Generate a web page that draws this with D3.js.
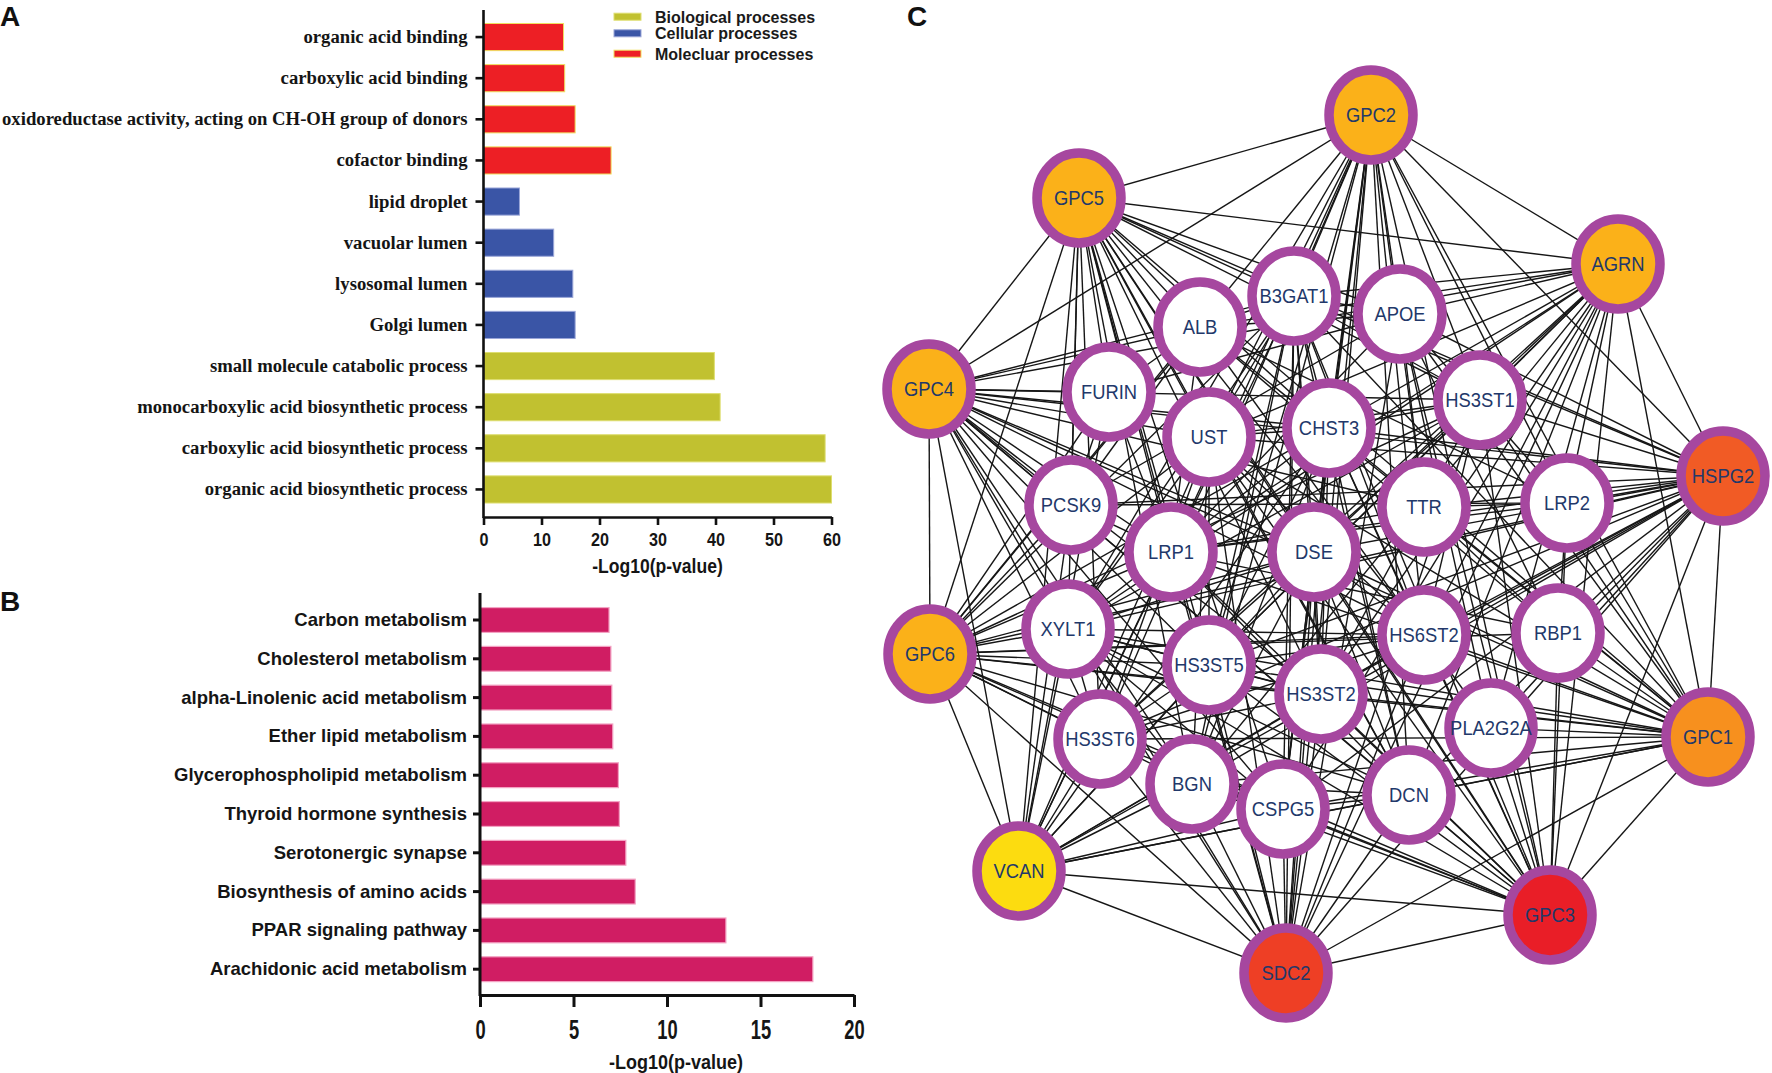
<!DOCTYPE html>
<html>
<head>
<meta charset="utf-8">
<script src="https://cdn.jsdelivr.net/npm/d3@7"></script>
<style>
  body { margin: 0; background: #fff; }
  svg { display: block; }
</style>
</head>
<body>
<svg id="fig"></svg>
<script>
// ---- panel A: GO enrichment ----
const goTerms = [
  "organic acid binding",
  "carboxylic acid binding",
  "oxidoreductase activity, acting on CH-OH group of donors",
  "cofactor binding",
  "lipid droplet",
  "vacuolar lumen",
  "lysosomal lumen",
  "Golgi lumen",
  "small molecule catabolic process",
  "monocarboxylic acid biosynthetic process",
  "carboxylic acid biosynthetic process",
  "organic acid biosynthetic process"
];
const goValues = [13.8, 14.0, 15.8, 22.0, 6.2, 12.1, 15.4, 15.8, 39.8, 40.8, 58.9, 60.0];
const goGroups = [
  "Molecluar processes", "Molecluar processes", "Molecluar processes", "Molecluar processes",
  "Cellular processes", "Cellular processes", "Cellular processes", "Cellular processes",
  "Biological processes", "Biological processes", "Biological processes", "Biological processes"
];
const goLegend = ["Biological processes", "Cellular processes", "Molecluar processes"];
const goTicks = [0, 10, 20, 30, 40, 50, 60];

// ---- panel B: KEGG pathways ----
const keggTerms = [
  "Carbon metabolism",
  "Cholesterol metabolism",
  "alpha-Linolenic acid metabolism",
  "Ether lipid metabolism",
  "Glycerophospholipid metabolism",
  "Thyroid hormone synthesis",
  "Serotonergic synapse",
  "Biosynthesis of amino acids",
  "PPAR signaling pathway",
  "Arachidonic acid metabolism"
];
const keggValues = [6.9, 7.0, 7.05, 7.1, 7.4, 7.45, 7.8, 8.3, 13.15, 17.8];
const keggTicks = [0, 5, 10, 15, 20];

// ---- panel C: PPI network (layout units = pixels from panel left / top) ----
const nodeNames = ["GPC2", "GPC5", "AGRN", "GPC4", "HSPG2", "GPC6", "GPC1", "VCAN", "GPC3", "SDC2",
  "B3GAT1", "ALB", "APOE", "FURIN", "HS3ST1", "UST", "CHST3", "PCSK9", "TTR", "LRP2",
  "LRP1", "DSE", "XYLT1", "HS6ST2", "RBP1", "HS3ST5", "HS3ST2", "PLA2G2A", "HS3ST6", "BGN", "CSPG5", "DCN"];
const nodeX = [491, 199, 738, 49, 843, 50, 828, 139, 670, 406,
  414, 320, 520, 229, 600, 329, 449, 191, 544, 687,
  291, 434, 188, 544, 678, 329, 441, 611, 220, 312, 403, 529];
const nodeY = [115, 198, 264, 389, 476, 654, 737, 871, 915, 973,
  296, 327, 314, 392, 400, 437, 428, 505, 507, 503,
  552, 552, 629, 635, 633, 665, 694, 728, 739, 784, 809, 795];
// hub ranking (0 = not a hub gene)
const hubRank = [5, 7, 6, 8, 3, 9, 4, 10, 1, 2,
  0, 0, 0, 0, 0, 0, 0, 0, 0, 0, 0, 0, 0, 0, 0, 0, 0, 0, 0, 0, 0, 0];

const links = {
  GPC2: "GPC5 AGRN GPC4 HSPG2 GPC1 GPC6 GPC3 SDC2 B3GAT1 APOE UST CHST3 HS3ST1 LRP1 DSE HS6ST2 HS3ST5 HS3ST2 XYLT1 HS3ST6 BGN CSPG5 DCN LRP2 TTR",
  GPC5: "AGRN GPC4 HSPG2 GPC6 GPC1 GPC3 SDC2 VCAN B3GAT1 ALB APOE FURIN UST CHST3 HS3ST1 LRP1 DSE HS6ST2 HS3ST5 HS3ST2 XYLT1 HS3ST6 BGN CSPG5 DCN PCSK9",
  AGRN: "HSPG2 GPC4 GPC1 GPC3 SDC2 B3GAT1 ALB APOE UST CHST3 HS3ST1 LRP1 DSE HS6ST2 HS3ST5 HS3ST2 XYLT1 HS3ST6 BGN CSPG5 DCN LRP2 PLA2G2A",
  GPC4: "GPC6 HSPG2 GPC1 VCAN GPC3 SDC2 B3GAT1 ALB FURIN UST CHST3 HS3ST1 LRP1 DSE HS6ST2 HS3ST5 HS3ST2 XYLT1 HS3ST6 BGN CSPG5 DCN PCSK9 TTR",
  HSPG2: "GPC1 GPC6 VCAN GPC3 SDC2 B3GAT1 APOE UST CHST3 HS3ST1 LRP1 LRP2 DSE HS6ST2 HS3ST5 HS3ST2 XYLT1 HS3ST6 BGN CSPG5 DCN TTR RBP1 PLA2G2A PCSK9",
  GPC6: "VCAN GPC1 GPC3 SDC2 B3GAT1 ALB FURIN UST CHST3 HS3ST1 LRP1 DSE HS6ST2 HS3ST5 HS3ST2 XYLT1 HS3ST6 BGN CSPG5 DCN PCSK9 RBP1",
  GPC1: "GPC3 SDC2 VCAN B3GAT1 APOE UST CHST3 HS3ST1 LRP1 LRP2 DSE HS6ST2 HS3ST5 HS3ST2 XYLT1 HS3ST6 BGN CSPG5 DCN RBP1 PLA2G2A TTR",
  VCAN: "SDC2 GPC3 B3GAT1 FURIN UST CHST3 LRP1 DSE HS6ST2 HS3ST5 HS3ST2 XYLT1 HS3ST6 BGN CSPG5 DCN PCSK9",
  GPC3: "SDC2 B3GAT1 APOE UST CHST3 HS3ST1 LRP1 LRP2 DSE HS6ST2 HS3ST5 HS3ST2 XYLT1 HS3ST6 BGN CSPG5 DCN RBP1 PLA2G2A",
  SDC2: "B3GAT1 UST CHST3 HS3ST1 LRP1 DSE HS6ST2 HS3ST5 HS3ST2 XYLT1 HS3ST6 BGN CSPG5 DCN APOE",
  B3GAT1: "XYLT1 CHST3 UST DSE HS3ST1 HS6ST2 HS3ST2 HS3ST5 CSPG5 BGN DCN APOE ALB",
  XYLT1: "CHST3 UST DSE HS3ST1 HS6ST2 HS3ST2 HS3ST5 HS3ST6 BGN DCN CSPG5",
  CHST3: "UST DSE HS3ST1 HS6ST2 HS3ST2 HS3ST5 BGN DCN CSPG5",
  UST: "DSE HS3ST1 HS6ST2 HS3ST5 HS3ST6 BGN DCN",
  DSE: "BGN DCN CSPG5 HS6ST2 HS3ST2",
  HS3ST1: "HS3ST2 HS3ST5 HS3ST6 HS6ST2",
  HS3ST2: "HS3ST5 HS3ST6 HS6ST2",
  HS3ST5: "HS3ST6 HS6ST2",
  HS3ST6: "HS6ST2",
  BGN: "DCN CSPG5",
  DCN: "CSPG5 LRP1",
  APOE: "LRP1 LRP2 ALB TTR PCSK9 FURIN PLA2G2A RBP1",
  LRP1: "LRP2 ALB PCSK9 FURIN TTR RBP1",
  LRP2: "ALB TTR RBP1 PCSK9",
  ALB: "TTR RBP1 FURIN PLA2G2A PCSK9",
  TTR: "RBP1",
  PCSK9: "FURIN"
};

const W = 1772, H = 1073;
const svg = d3.select("#fig").attr("width", W).attr("height", H);
svg.append("rect").attr("width", W).attr("height", H).attr("fill", "#fff");

const serif = "'Liberation Serif', 'Times New Roman', serif";
const sans = "'Liberation Sans', Arial, sans-serif";

function styleAxis(g, w) {
  g.selectAll("path.domain").attr("stroke", "#111").attr("stroke-width", w);
  g.selectAll(".tick line").attr("stroke", "#111").attr("stroke-width", w);
}

// panel letters
[["A", 0, 26], ["B", 0, 611], ["C", 907, 26]].forEach(([t, x, y]) => {
  svg.append("text").attr("x", x).attr("y", y).text(t)
    .attr("font-family", sans).attr("font-weight", "bold").attr("font-size", 28).attr("fill", "#111");
});

// ================= Panel A =================
const xA = d3.scaleLinear().domain([0, 60]).range([483.5, 831.5]);
const yA = d3.scaleBand().domain(goTerms).range([16.5, 510]).paddingInner(0.34).paddingOuter(0.17);
const colA = d3.scaleOrdinal().domain(goLegend).range(["#c1c130", "#3a55a6", "#ed1f25"]);
const edgeA = d3.scaleOrdinal().domain(goLegend).range(["#dede70", "#9aa6d8", "#f0e060"]);

const gA = svg.append("g");
gA.selectAll("rect.bar").data(goTerms).join("rect")
  .attr("class", "bar")
  .attr("x", xA(0))
  .attr("y", d => yA(d))
  .attr("width", (d, i) => xA(goValues[i]) - xA(0))
  .attr("height", yA.bandwidth())
  .attr("fill", (d, i) => colA(goGroups[i]))
  .attr("stroke", (d, i) => edgeA(goGroups[i]))
  .attr("stroke-width", 1);

const yAxA = gA.append("g").attr("transform", `translate(${xA(0)},0)`)
  .call(d3.axisLeft(yA).tickSize(8).tickPadding(8));
yAxA.select("path.domain").remove();
styleAxis(yAxA, 2.6);
yAxA.selectAll("text").attr("font-family", serif).attr("font-weight", "bold")
  .attr("font-size", 18.7).attr("fill", "#151515");
gA.append("line").attr("x1", xA(0)).attr("x2", xA(0)).attr("y1", 10).attr("y2", 518)
  .attr("stroke", "#111").attr("stroke-width", 2.6);

const xAxA = gA.append("g").attr("transform", "translate(0,517)")
  .call(d3.axisBottom(xA).tickValues(goTicks).tickSize(8).tickPadding(8).tickSizeOuter(0));
styleAxis(xAxA, 2.6);
xAxA.selectAll("text").attr("font-family", sans).attr("font-weight", "bold")
  .attr("font-size", 19).attr("fill", "#151515").attr("transform", "scale(0.85,1)");

gA.append("text").attr("transform", `translate(${(xA(0) + xA(60)) / 2},573) scale(0.9,1)`)
  .attr("text-anchor", "middle").text("-Log10(p-value)")
  .attr("font-family", sans).attr("font-weight", "bold").attr("font-size", 19.5).attr("fill", "#151515");

// legend
const legY = [16.7, 33.3, 53.7];
const legG = gA.selectAll("g.leg").data(goLegend).join("g").attr("class", "leg");
legG.append("rect").attr("x", 614).attr("y", (d, i) => legY[i] - 3.5).attr("width", 27).attr("height", 7)
  .attr("fill", d => colA(d)).attr("stroke", d => edgeA(d)).attr("stroke-width", 1);
legG.append("text").attr("x", 655).attr("y", (d, i) => legY[i] + 6).text(d => d)
  .attr("font-family", sans).attr("font-weight", "bold").attr("font-size", 16).attr("fill", "#1a1a1a");

// ================= Panel B =================
const xB = d3.scaleLinear().domain([0, 20]).range([480, 854]);
const yB = d3.scaleBand().domain(keggTerms).range([600.6, 988.6]).paddingInner(0.36).paddingOuter(0.18);

const gB = svg.append("g");
gB.selectAll("rect.bar").data(keggTerms).join("rect")
  .attr("class", "bar")
  .attr("x", xB(0))
  .attr("y", d => yB(d))
  .attr("width", (d, i) => xB(keggValues[i]) - xB(0))
  .attr("height", yB.bandwidth())
  .attr("fill", "#d01d63")
  .attr("stroke", "#f3a3c3")
  .attr("stroke-width", 1.2);

const yAxB = gB.append("g").attr("transform", `translate(${xB(0)},0)`)
  .call(d3.axisLeft(yB).tickSize(7).tickPadding(6));
yAxB.select("path.domain").remove();
styleAxis(yAxB, 3);
yAxB.selectAll("text").attr("font-family", sans).attr("font-weight", "bold")
  .attr("font-size", 18.5).attr("fill", "#151515");
gB.append("line").attr("x1", xB(0)).attr("x2", xB(0)).attr("y1", 593).attr("y2", 996)
  .attr("stroke", "#111").attr("stroke-width", 3);

const xAxB = gB.append("g").attr("transform", "translate(0,995)")
  .call(d3.axisBottom(xB).tickValues(keggTicks).tickSize(12).tickPadding(13).tickSizeOuter(0));
styleAxis(xAxB, 3);
xAxB.selectAll("text").attr("font-family", sans).attr("font-weight", "bold")
  .attr("font-size", 27).attr("fill", "#151515").attr("transform", "scale(0.68,1)");

gB.append("text").attr("transform", `translate(${(xB(0) + xB(20)) / 2 + 9},1069) scale(0.9,1)`)
  .attr("text-anchor", "middle").text("-Log10(p-value)")
  .attr("font-family", sans).attr("font-weight", "bold").attr("font-size", 20).attr("fill", "#151515");

// ================= Panel C =================
const xC = d3.scaleLinear().domain([0, 892]).range([880, 1772]);
const yC = d3.scaleLinear().domain([0, 1073]).range([0, 1073]);
const hubColor = d3.scaleOrdinal()
  .domain([0, 1, 2, 3, 4, 5, 6, 7, 8, 9, 10])
  .range(["#ffffff", "#e91e27", "#ee3f25", "#f15b25", "#f7901e", "#fbb119", "#fbb119", "#fbb119", "#fbb119", "#fbb119", "#fcdc10"]);

const nodes = nodeNames.map((n, i) => ({ id: n, x: xC(nodeX[i]), y: yC(nodeY[i]), rank: hubRank[i] }));
const byId = new Map(nodes.map(n => [n.id, n]));
const edges = [];
Object.entries(links).forEach(([s, list]) => {
  list.split(" ").forEach(t => edges.push({ source: byId.get(s), target: byId.get(t) }));
});

const gC = svg.append("g");
gC.append("g").selectAll("line").data(edges).join("line")
  .attr("x1", d => d.source.x).attr("y1", d => d.source.y)
  .attr("x2", d => d.target.x).attr("y2", d => d.target.y)
  .attr("stroke", "#161616").attr("stroke-width", 1.4);

const nodeG = gC.append("g").selectAll("g").data(nodes).join("g")
  .attr("transform", d => `translate(${d.x},${d.y})`);
nodeG.append("ellipse").attr("rx", 42).attr("ry", 45)
  .attr("fill", d => hubColor(d.rank))
  .attr("stroke", "#a6479f").attr("stroke-width", 9.5);
nodeG.append("text").text(d => d.id)
  .attr("text-anchor", "middle").attr("dy", "0.36em")
  .attr("transform", "scale(0.92,1)")
  .attr("font-family", sans).attr("font-size", 20).attr("fill", "#22386a");
</script>
</body>
</html>
